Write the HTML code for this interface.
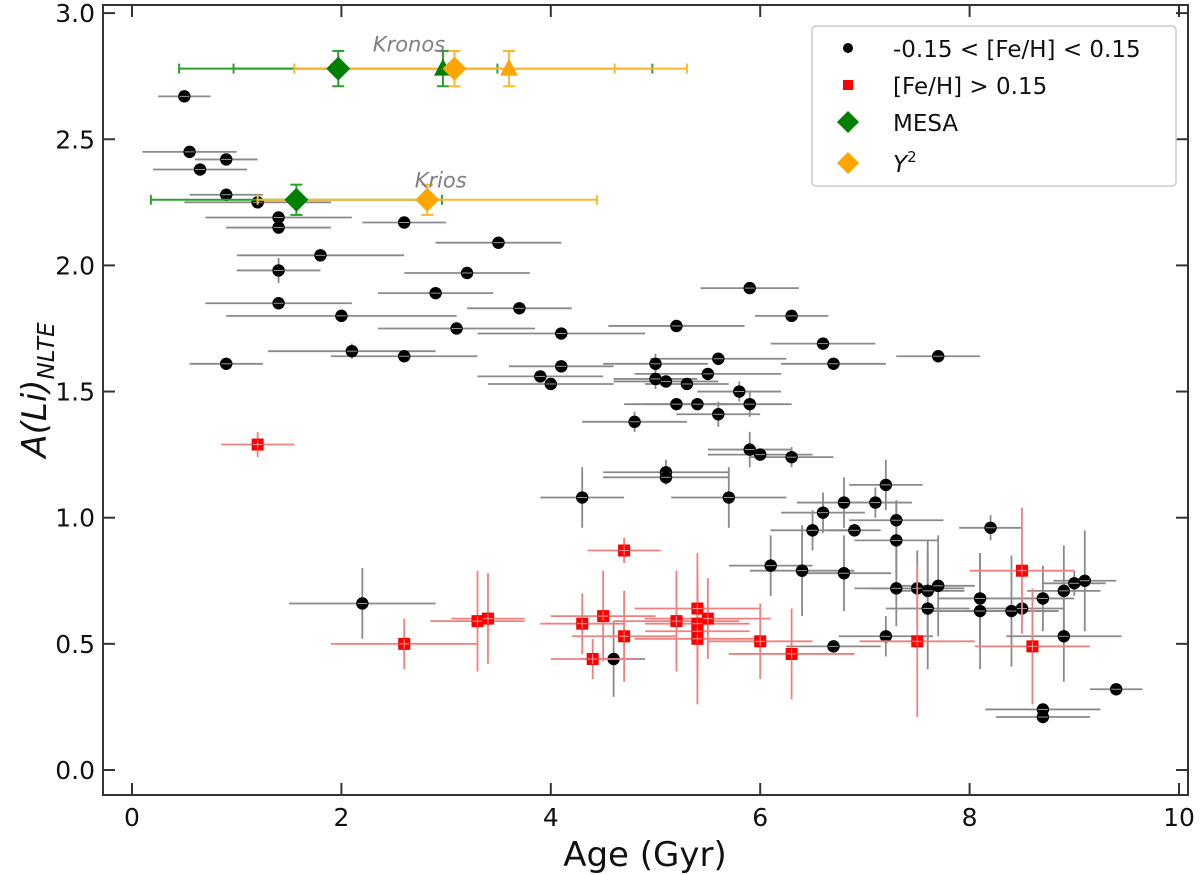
<!DOCTYPE html>
<html><head><meta charset="utf-8">
<style>
html,body{margin:0;padding:0;background:#fff;}
svg{display:block;font-family:"DejaVu Sans","Liberation Sans",sans-serif;}
</style></head>
<body>
<svg id="chart" width="1200" height="875" viewBox="0 0 1200 875" xmlns="http://www.w3.org/2000/svg"></svg>
<script>
// Solar-metallicity stars: age, A(Li), age error, A(Li) error
const blackAge = [0.5,0.55,0.9,0.65,1.2,0.9,1.4,1.4,2.6,3.5,1.8,1.4,3.2,2.9,1.4,3.7,2.0,3.1,4.1,2.1,2.6,0.9,4.1,3.9,4.0,
 5.9,6.3,6.6,7.7,6.7,5.2,5.0,5.6,5.5,5.0,5.1,5.3,5.8,5.2,5.4,5.9,5.6,4.8,5.9,6.0,6.3,5.1,5.1,4.3,5.7,7.2,
 6.8,7.1,6.6,7.3,6.5,6.9,7.3,8.2,6.1,6.4,6.8,7.3,7.5,7.6,7.7,7.6,8.1,8.1,8.4,8.5,8.7,8.9,9.0,9.1,8.9,7.2,6.7,4.6,9.4,8.7,8.7,2.2];
const blackLi = [2.67,2.45,2.42,2.38,2.25,2.28,2.19,2.15,2.17,2.09,2.04,1.98,1.97,1.89,1.85,1.83,1.80,1.75,1.73,1.66,1.64,1.61,1.60,1.56,1.53,
 1.91,1.80,1.69,1.64,1.61,1.76,1.61,1.63,1.57,1.55,1.54,1.53,1.50,1.45,1.45,1.45,1.41,1.38,1.27,1.25,1.24,1.18,1.16,1.08,1.08,1.13,
 1.06,1.06,1.02,0.99,0.95,0.95,0.91,0.96,0.81,0.79,0.78,0.72,0.72,0.71,0.73,0.64,0.68,0.63,0.63,0.64,0.68,0.71,0.74,0.75,0.53,0.53,0.49,0.44,0.32,0.24,0.21,0.66];
const blackAgeErr = [0.25,0.45,0.3,0.45,0.7,0.35,0.7,0.5,0.4,0.6,0.8,0.4,0.6,0.55,0.7,0.5,1.1,0.75,0.8,0.8,0.7,0.35,0.5,0.6,0.6,
 0.47,0.35,0.5,0.4,0.5,0.65,0.5,0.65,0.7,0.4,0.5,0.4,0.4,0.5,0.5,0.4,0.4,0.5,0.4,0.5,0.4,0.6,0.6,0.4,0.55,0.35,
 0.45,0.35,0.4,0.45,0.4,0.25,0.4,0.3,0.4,0.5,0.45,0.4,0.45,0.35,0.35,0.4,0.4,0.45,0.45,0.4,0.3,0.35,0.3,0.3,0.55,0.45,0.45,0.3,0.25,0.55,0.45,0.7];
const blackLiErr = [0,0,0,0,0,0,0,0,0,0,0,0.05,0,0,0,0,0,0,0,0.03,0,0,0,0,0,
 0,0.02,0,0,0,0,0.04,0,0.02,0.04,0,0,0.04,0,0,0.05,0.05,0.04,0.07,0,0.04,0.05,0,0.12,0.12,0.1,
 0.1,0.06,0.08,0.08,0.08,0,0.15,0.05,0.12,0.18,0.15,0.15,0.15,0.2,0.2,0.24,0.18,0.23,0.22,0.05,0.13,0.18,0.05,0.2,0.18,0.08,0,0.15,0,0.02,0,0.14];
// Metal-rich stars
const redAge = [1.2,2.6,3.3,3.4,4.3,4.4,4.7,4.5,4.7,5.2,5.4,5.5,5.4,5.4,5.4,6.0,6.3,7.5,8.5,8.6];
const redLi = [1.29,0.50,0.59,0.60,0.58,0.44,0.87,0.61,0.53,0.59,0.64,0.60,0.58,0.55,0.52,0.51,0.46,0.51,0.79,0.49];
const redAgeErr = [0.35,0.7,0.45,0.35,0.4,0.4,0.35,0.5,0.5,0.6,0.6,0.6,0.5,0.5,0.6,0.5,0.6,0.55,0.5,0.55];
const redLiErr = [0.05,0.1,0.2,0.18,0.12,0.08,0.05,0.18,0.18,0.2,0.22,0.16,0.2,0.2,0.26,0.15,0.18,0.3,0.25,0.23];
// Model ages for Kronos/Krios: [age, A(Li), ageErr, LiErr]
const mesaDiamond = [[1.97,2.78,1.52,0.07],[1.57,2.26,1.39,0.06]];
const mesaTriangle = [[2.97,2.78,2.0,0.07]];
const y2Diamond = [[3.08,2.78,1.53,0.07],[2.82,2.26,1.62,0.06]];
const y2Triangle = [[3.6,2.78,1.7,0.07]];
const xTicks = [0,2,4,6,8,10];
const yTicks = [0.0,0.5,1.0,1.5,2.0,2.5,3.0];

const NS = "http://www.w3.org/2000/svg";
const svg = document.getElementById('chart');
const L=103,R=1188,T=5,B=795;
const X = v => 132 + v*104.7;
const Y = v => 770 - v*252.3;
function mk(tag, attrs, parent){const e=document.createElementNS(NS,tag);for(const k in attrs)e.setAttribute(k,attrs[k]);(parent||svg).appendChild(e);return e;}

const gGrid = mk('g',{});


xTicks.forEach(t=>{
  const x=X(t);
  const tk=mk('line',{x1:x,x2:x,y1:B,y2:B-12,stroke:'#333','stroke-width':2},gGrid);
  
  
  mk('line',{x1:x,x2:x,y1:T,y2:T+12,stroke:'#333','stroke-width':2},gGrid);
  const lb=mk('text',{x:x,y:B+31,'text-anchor':'middle','font-size':25,fill:'#111'},gGrid);
  lb.textContent=t;
  
  
});
yTicks.forEach(t=>{
  const y=Y(t);
  const tk=mk('line',{x1:L,x2:L+12,y1:y,y2:y,stroke:'#333','stroke-width':2},gGrid);
  
  
  mk('line',{x1:R,x2:R-12,y1:y,y2:y,stroke:'#333','stroke-width':2},gGrid);
  const lb=mk('text',{x:L-8,y:y+9,'text-anchor':'end','font-size':25,fill:'#111'},gGrid);
  lb.textContent=t.toFixed(1);
  
  
});

function errbar(g,x,y,xe,ye,color,w,caps){
  mk('line',{x1:X(x-xe),x2:X(x+xe),y1:Y(y),y2:Y(y),stroke:color,'stroke-width':w},g);
  if(ye>0) mk('line',{x1:X(x),x2:X(x),y1:Y(y-ye),y2:Y(y+ye),stroke:color,'stroke-width':w},g);
  if(caps){
    [x-xe,x+xe].forEach(v=>mk('line',{x1:X(v),x2:X(v),y1:Y(y)-5,y2:Y(y)+5,stroke:color,'stroke-width':w},g));
    [y-ye,y+ye].forEach(v=>mk('line',{x1:X(x)-6,x2:X(x)+6,y1:Y(v),y2:Y(v),stroke:color,'stroke-width':w},g));
  }
}

const gB = mk('g',{});


blackAge.forEach((a,i)=>{
  errbar(gB,a,blackLi[i],blackAgeErr[i],blackLiErr[i],'#8a8a8a',1.8,false);
});
blackAge.forEach((a,i)=>{
  const c=mk('circle',{cx:X(a),cy:Y(blackLi[i]),r:6.2,fill:'#000'},gB);
  
  
  mk('line',{x1:X(a)-5,x2:X(a)+5,y1:Y(blackLi[i]),y2:Y(blackLi[i]),stroke:'#999','stroke-width':1},gB);
});

const gR = mk('g',{});


redAge.forEach((a,i)=>{
  errbar(gR,a,redLi[i],redAgeErr[i],redLiErr[i],'#f08080',1.8,false);
});
redAge.forEach((a,i)=>{
  const s=mk('rect',{x:X(a)-6,y:Y(redLi[i])-6,width:12,height:12,fill:'#f00'},gR);
  
  
  mk('line',{x1:X(a)-5,x2:X(a)+5,y1:Y(redLi[i]),y2:Y(redLi[i]),stroke:'#f99','stroke-width':1},gR);
  mk('line',{x1:X(a),x2:X(a),y1:Y(redLi[i])-5,y2:Y(redLi[i])+5,stroke:'#f99','stroke-width':1},gR);
});

const gM = mk('g',{});


function diamond(g,x,y,c){const px=X(x),py=Y(y);return mk('polygon',{points:`${px},${py-12} ${px+12},${py} ${px},${py+12} ${px-12},${py}`,fill:c},g);}
function tri(g,x,y,c){const px=X(x),py=Y(y);return mk('polygon',{points:`${px},${py-10} ${px+9},${py+7} ${px-9},${py+7}`,fill:c},g);}
mesaDiamond.concat(mesaTriangle).forEach(d=>errbar(gM,d[0],d[1],d[2],d[3],'#2ca02c',2,true));
y2Diamond.concat(y2Triangle).forEach(d=>errbar(gM,d[0],d[1],d[2],d[3],'#ffb733',2,true));
mesaDiamond.forEach(d=>{const e=diamond(gM,d[0],d[1],'#008000');
  
  });
mesaTriangle.forEach(d=>{const e=tri(gM,d[0],d[1],'#008000');
  
  });
y2Diamond.forEach(d=>{const e=diamond(gM,d[0],d[1],'#ffa500');
  
  });
y2Triangle.forEach(d=>{const e=tri(gM,d[0],d[1],'#ffa500');
  
  });

const kr=mk('text',{x:X(2.3),y:Y(2.88)+8,'font-size':21,'font-style':'italic',fill:'#808080'});
kr.textContent='Kronos';


const ki=mk('text',{x:X(2.7),y:Y(2.34)+8,'font-size':21,'font-style':'italic',fill:'#808080'});
ki.textContent='Krios';



const fr=mk('rect',{x:L,y:T,width:R-L,height:B-T,fill:'none',stroke:'#333','stroke-width':2});



const xt=mk('text',{x:645,y:866,'text-anchor':'middle','font-size':34,fill:'#111'});
xt.textContent='Age (Gyr)';


const yt=mk('text',{x:0,y:0,'font-size':34,'font-style':'italic',fill:'#111',transform:'translate(46,390) rotate(-90)','text-anchor':'middle'});
yt.innerHTML='A(Li)<tspan font-size="23" dy="8">NLTE</tspan>';



const lg=mk('g',{});


mk('rect',{x:812,y:26,width:364,height:160,rx:4,fill:'#fff',stroke:'#ccc','stroke-width':1.5},lg);
const ents=[['-0.15 < [Fe/H] < 0.15',48],['[Fe/H] > 0.15',85],['MESA',122],['Y',163]];
mk('circle',{cx:848,cy:48,r:5,fill:'#000'},lg);
mk('rect',{x:843,y:80,width:10,height:10,fill:'#f00'},lg);
mk('polygon',{points:'848,111 859,122 848,133 837,122',fill:'#008000'},lg);
mk('polygon',{points:'848,152 859,163 848,174 837,163',fill:'#ffa500'},lg);
ents.forEach((e,i)=>{
  const t=mk('text',{x:893,y:e[1]+9,'font-size':23,fill:'#111'},lg);
  if(i===3){t.innerHTML='<tspan font-style="italic">Y</tspan><tspan font-size="15" dy="-10">2</tspan>';}
  else t.textContent=e[0];
  
  
});
</script>
</body></html>
